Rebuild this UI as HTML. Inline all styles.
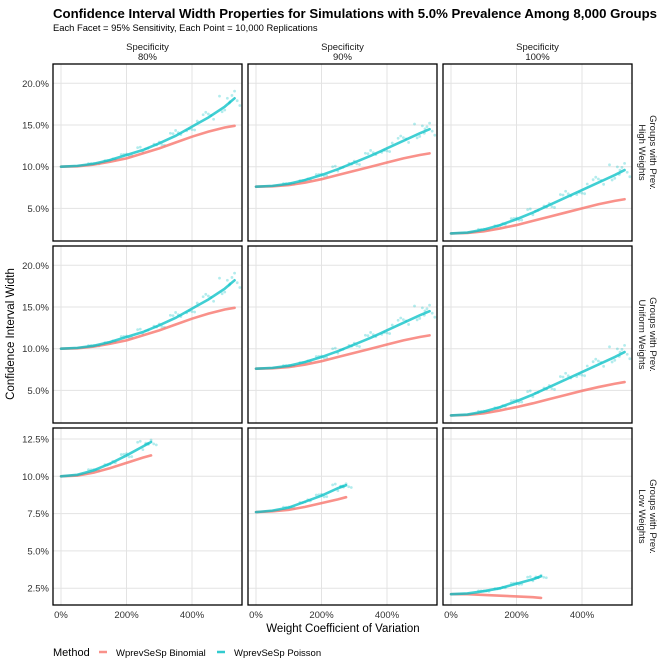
<!DOCTYPE html>
<html><head><meta charset="utf-8">
<style>
html,body{margin:0;padding:0;background:#fff;}
svg{display:block;font-family:"Liberation Sans",sans-serif;}
</style></head>
<body>
<svg id="chart" width="664" height="664" viewBox="0 0 664 664" xmlns="http://www.w3.org/2000/svg">
<rect width="664" height="664" fill="#fff"/>
<text x="53" y="18" font-size="13.2" font-weight="bold" fill="#000">Confidence Interval Width Properties for Simulations with 5.0% Prevalence Among 8,000 Groups</text>
<text x="53" y="31" font-size="9.4" fill="#000">Each Facet = 95% Sensitivity, Each Point = 10,000 Replications</text>
<g id="panels"></g>
<text transform="translate(14,334) rotate(-90)" text-anchor="middle" font-size="11.5" fill="#000">Confidence Interval Width</text>
<text x="343" y="632" text-anchor="middle" font-size="11.5" fill="#000">Weight Coefficient of Variation</text>
<g>
<text x="53" y="656" font-size="11" fill="#000">Method</text>
<line x1="99" y1="652" x2="107" y2="652" stroke="#F8766D" stroke-width="2.5" opacity="0.8"/>
<text x="116" y="656" font-size="9.5" fill="#000">WprevSeSp Binomial</text>
<line x1="217" y1="652" x2="225" y2="652" stroke="#00BFC4" stroke-width="2.5" opacity="0.8"/>
<text x="234" y="656" font-size="9.5" fill="#000">WprevSeSp Poisson</text>
</g>
</svg>
<script>
const colLabels = ["80%","90%","100%"];
const rowLabels = [["Groups with Prev.","High Weights"],["Groups with Prev.","Uniform Weights"],["Groups with Prev.","Low Weights"]];
const xTicks = [0,200,400];
const xTickLabels = ["0%","200%","400%"];
const yTicksTop = [5,10,15,20];
const yTickLabelsTop = ["5.0%","10.0%","15.0%","20.0%"];
const yTicksLow = [2.5,5,7.5,10,12.5];
const yTickLabelsLow = ["2.5%","5.0%","7.5%","10.0%","12.5%"];
const cvFull = [0,50,100,150,200,250,300,350,400,450,500,530];
const cvLow = [0,50,100,150,200,250,275];
const binomHigh = [[10.0,10.05,10.25,10.6,11.0,11.6,12.2,12.9,13.6,14.2,14.7,14.9],[7.6,7.65,7.8,8.1,8.5,9.0,9.5,10.0,10.5,11.0,11.4,11.6],[2.0,2.05,2.25,2.6,3.0,3.5,4.0,4.5,5.0,5.5,5.9,6.1]];
const poisHigh = [[10.0,10.1,10.35,10.8,11.4,12.0,12.8,13.7,14.8,15.9,17.2,18.2],[7.6,7.7,7.95,8.4,9.0,9.7,10.5,11.3,12.2,13.1,14.0,14.5],[2.0,2.1,2.45,3.0,3.7,4.5,5.4,6.3,7.2,8.1,9.0,9.6]];
const binomUni = [[10.0,10.05,10.25,10.6,11.0,11.6,12.2,12.9,13.6,14.2,14.7,14.9],[7.6,7.65,7.8,8.1,8.5,9.0,9.5,10.0,10.5,11.0,11.4,11.6],[2.0,2.05,2.25,2.6,3.0,3.45,3.95,4.45,4.95,5.4,5.8,6.0]];
const poisUni = [[10.0,10.1,10.35,10.8,11.4,12.0,12.8,13.7,14.8,15.9,17.2,18.2],[7.6,7.7,7.95,8.4,9.0,9.7,10.5,11.3,12.2,13.1,14.0,14.5],[2.0,2.1,2.45,3.0,3.7,4.5,5.4,6.3,7.2,8.1,9.0,9.6]];
const binomLow = [[10.0,10.05,10.25,10.55,10.9,11.25,11.4],[7.6,7.65,7.75,7.95,8.2,8.45,8.6],[2.1,2.1,2.05,2.0,1.95,1.9,1.85]];
const poisLow = [[10.0,10.1,10.4,10.85,11.4,12.0,12.3],[7.6,7.7,7.9,8.3,8.7,9.2,9.4],[2.1,2.15,2.3,2.5,2.8,3.1,3.3]];
const spreadOffsets = [0.10,-0.08,0.15,-0.12,0.06,0.2,-0.05,0.12,-0.15,0.08,0.25,-0.1];

const NS="http://www.w3.org/2000/svg";
const root=document.getElementById('panels');
const colX=[53,248,443], pw=189;
const rowY=[64,246,428], ph=177;
function mk(tag,attrs,parent){const e=document.createElementNS(NS,tag);for(const k in attrs)e.setAttribute(k,attrs[k]);parent.appendChild(e);return e;}
const xScale=(c,v)=>colX[c]+8+v*(65.5/200);
function yScaleFor(r){
  if(r<2){return v=>rowY[r]+19.3+(20-v)*(41.7/5);}
  return v=>rowY[r]+11+(12.5-v)*(37.3/2.5);
}
const rowsData=[[binomHigh,poisHigh,cvFull],[binomUni,poisUni,cvFull],[binomLow,poisLow,cvLow]];
for(let r=0;r<3;r++){
  const ys=yScaleFor(r);
  const ticks=r<2?yTicksTop:yTicksLow, tl=r<2?yTickLabelsTop:yTickLabelsLow;
  for(let c=0;c<3;c++){
    const g=mk('g',{},root);
    
    
    mk('rect',{x:colX[c],y:rowY[r],width:pw,height:ph,fill:'#fff'},g);
    xTicks.forEach(v=>{const l=mk('line',{x1:xScale(c,v),x2:xScale(c,v),y1:rowY[r],y2:rowY[r]+ph,stroke:'#e3e3e3','stroke-width':1},g);
      });
    ticks.forEach(v=>{const l=mk('line',{x1:colX[c],x2:colX[c]+pw,y1:ys(v),y2:ys(v),stroke:'#e3e3e3','stroke-width':1},g);
      });
    const [bArr,pArr,cv]=rowsData[r];
    const b=bArr[c], p=pArr[c];
    cv.forEach((v,i)=>{ if(i<2) return;
      const d=(p[i]-p[0]);
      [spreadOffsets[i%12],spreadOffsets[(i+5)%12],spreadOffsets[(i+3)%12],spreadOffsets[(i+7)%12],spreadOffsets[(i+9)%12]].forEach((o,k)=>{
        const dot=mk('circle',{cx:xScale(c,v+(k-2)*8),cy:ys(p[i]+o*d*0.7),r:1.4,fill:'#00BFC4',opacity:0.3},g);
        });
    });
    const bl=mk('polyline',{points:cv.map((v,i)=>xScale(c,v)+','+ys(b[i])).join(' '),fill:'none',stroke:'#F8766D','stroke-width':2.6,opacity:0.8,'stroke-linecap':'round'},g);
    
    const pl=mk('polyline',{points:cv.map((v,i)=>xScale(c,v)+','+ys(p[i])).join(' '),fill:'none',stroke:'#00BFC4','stroke-width':2.6,opacity:0.75,'stroke-linecap':'round'},g);
    
    const bd=mk('rect',{x:colX[c],y:rowY[r],width:pw,height:ph,fill:'none',stroke:'#000','stroke-width':1.3},g);
    
    if(c===0){ticks.forEach((v,i)=>{const t=mk('text',{x:colX[0]-4,y:ys(v)+3.5,'text-anchor':'end','font-size':9.5,fill:'#333'},root);t.textContent=tl[i];
      });}
    if(r===2){xTicks.forEach((v,i)=>{const t=mk('text',{x:xScale(c,v),y:618,'text-anchor':'middle','font-size':9.5,fill:'#333'},root);t.textContent=xTickLabels[i];
      });}
  }
  const st=mk('text',{transform:'translate(645,'+(rowY[r]+ph/2)+') rotate(90)','text-anchor':'middle','font-size':9.5,fill:'#1a1a1a'},root);
  
  const t1=mk('tspan',{x:0,dy:-5},st);t1.textContent=rowLabels[r][0];
  const t2=mk('tspan',{x:0,dy:11},st);t2.textContent=rowLabels[r][1];
}
for(let c=0;c<3;c++){
  const t=mk('text',{x:colX[c]+pw/2,y:50,'text-anchor':'middle','font-size':9.5,fill:'#1a1a1a'},root);
  
  const a=mk('tspan',{x:colX[c]+pw/2,dy:0},t);a.textContent='Specificity';
  const b=mk('tspan',{x:colX[c]+pw/2,dy:10},t);b.textContent=colLabels[c];
}
</script>
</body></html>
